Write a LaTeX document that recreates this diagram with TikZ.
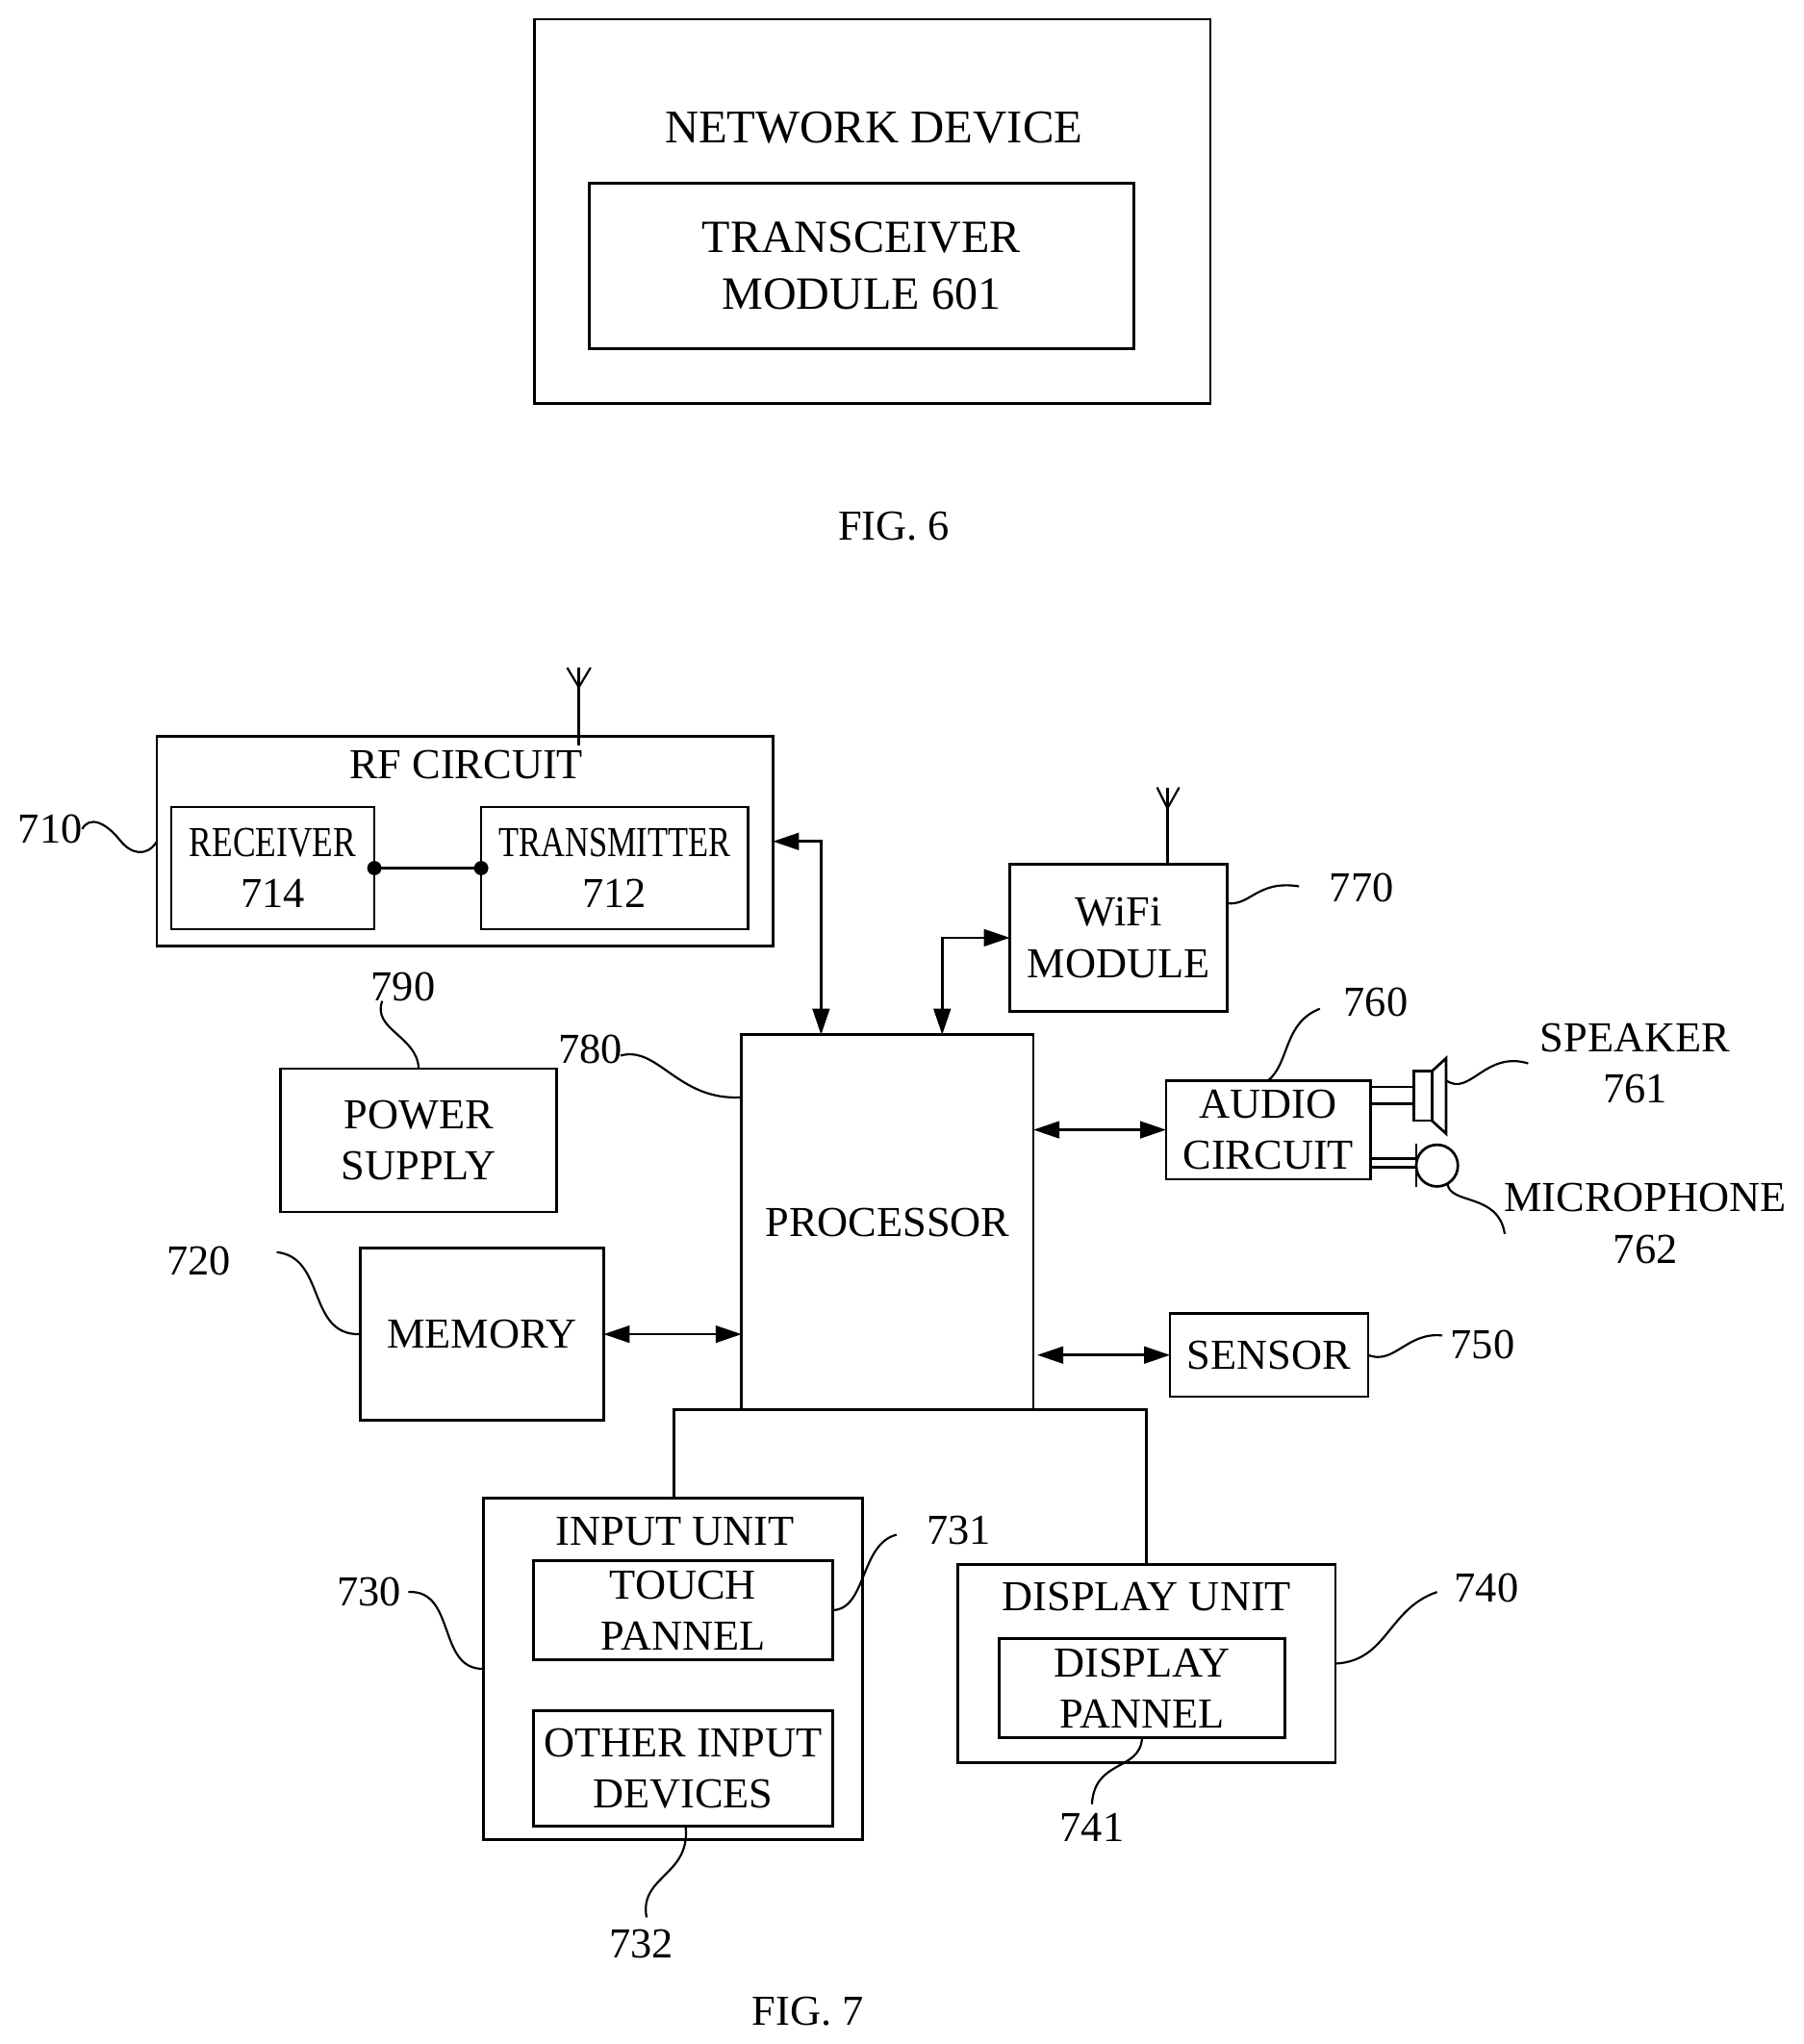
\documentclass[tikz,border=0pt]{standalone}
\usepackage{fontspec}
\setmainfont{Liberation Serif}
\usetikzlibrary{arrows.meta}
\tikzset{
  x=1pt,y=-1pt,
  blk/.style={draw=black,line width=2pt,inner sep=0pt,outer sep=0pt,align=center},
  lab/.style={inner sep=0pt,outer sep=0pt,align=center},
  wire/.style={line width=2pt},
  lead/.style={line width=1.6pt},
  dbl/.style={line width=2pt,{Triangle[length=20pt,width=13pt]}-{Triangle[length=20pt,width=13pt]}}
}
\newcommand{\blk}[6]{\node[blk,minimum width=#4pt,minimum height=#5pt] (#1) at (#2,#3) {#6};}
\newcommand{\lbl}[4]{\node[lab] (#1) at (#2,#3) {#4};}
\newcommand{\cond}[2]{\scalebox{#1}[1]{#2}}
\newcommand{\bigf}{\fontsize{35.5}{39.5}\selectfont}
\begin{document}
\begin{tikzpicture}
\useasboundingbox (-0.5,-0.8) rectangle (1384.5,1569.2);
\fontsize{32.8}{39.5}\selectfont
% FIG 6
\blk{net}{669.5}{161.5}{519}{295}{}
\blk{trans}{661}{203.5}{418}{127}{\bigf TRANSCEIVER\\[4.5pt]\bigf MODULE 601}
\lbl{netl}{670.5}{97}{\fontsize{36}{44}\selectfont NETWORK DEVICE}
\lbl{fig6}{686}{403.5}{FIG. 6}
% FIG 7 blocks
\blk{rf}{356.5}{645.5}{473}{161}{}
\lbl{rfl}{357.5}{586.5}{RF CIRCUIT}
\blk{rx}{209}{666}{156}{94}{\cond{.8}{RECEIVER}\\714}
\blk{tx}{471.5}{666}{205}{94}{\cond{.775}{TRANSMITTER}\\712}
\blk{wifi}{858.5}{719.5}{167}{113}{WiFi\\MODULE}
\blk{power}{321}{875}{212}{110}{POWER\\SUPPLY}
\blk{mem}{369.5}{1024}{187}{132}{MEMORY}
\blk{proc}{681}{938}{224}{288}{PROCESSOR}
\blk{audio}{973.5}{867}{157}{76}{AUDIO\\CIRCUIT}
\blk{sensor}{974}{1040}{152}{64}{SENSOR}
\blk{input}{516.5}{1281}{291}{262}{}
\lbl{inputl}{518}{1175.5}{INPUT UNIT}
\blk{touch}{524}{1236}{230}{76}{TOUCH\\PANNEL}
\blk{other}{524}{1357.5}{230}{89}{OTHER INPUT\\DEVICES}
\blk{disp}{880}{1277}{290}{152}{}
\lbl{displ}{880}{1226}{DISPLAY UNIT}
\blk{dpan}{876.5}{1296}{219}{76}{DISPLAY\\PANNEL}
\lbl{fig7}{620}{1544}{FIG. 7}
% numbers
\lbl{n710}{38}{636}{710}
\lbl{n790}{309}{757}{790}
\lbl{n780}{453}{805}{780}
\lbl{n770}{1045}{681}{770}
\lbl{n760}{1056}{769}{760}
\lbl{nspk}{1255}{816}{SPEAKER\\761}
\lbl{nmic}{1263}{939}{MICROPHONE\\762}
\lbl{n750}{1138}{1032}{750}
\lbl{n720}{152}{968}{720}
\lbl{n730}{283}{1222}{730}
\lbl{n731}{736}{1175}{731}
\lbl{n740}{1141}{1219}{740}
\lbl{n741}{838}{1403}{741}
\lbl{n732}{492}{1492}{732}
% connectors
\draw[wire] (rx.east) -- (tx.west);
\fill (rx.east) circle (5.5pt) (tx.west) circle (5.5pt);
\coordinate (pa) at (630,794);
\coordinate (pb) at (723,794);
\coordinate (pc) at (796,1040);
\coordinate (pd) at (517,1082);
\coordinate (pe) at (880,1082);
\draw[dbl] (rf.east) -| (pa);
\draw[dbl] (pb) |- (wifi.west);
\draw[dbl] (proc.east |- audio.west) -- (audio.west);
\draw[dbl] (pc) -- (sensor.west);
\draw[dbl] (mem.east) -- (proc.west |- mem.east);
\draw[wire] (input.north) ++(0.5,0) -- (pd) -- (pe) -- (disp.north);
% antennas
\coordinate (a1) at (444,572);
\coordinate (a1t) at (444,512);
\coordinate (a1v) at (444,527);
\draw[wire] (a1) -- (a1t);
\draw[lead] (435,512) -- (a1v) -- (453,512);
\coordinate (a2) at (896,663);
\coordinate (a2t) at (896,604);
\coordinate (a2v) at (896,620);
\draw[wire] (a2) -- (a2t);
\draw[lead] (888,604) -- (a2v) -- (905,604);
% speaker
\coordinate (s1) at (1085,822);
\coordinate (s2) at (1099,860);
\draw[wire] (s1) rectangle (s2);
\draw[wire,line join=miter] (1099,822) -- (1110,812) -- (1110,870) -- (1099,860);
\draw[wire] (audio.east |- 0,834) -- (1085,834);
\draw[wire] (audio.east |- 0,847) -- (1085,847);
% microphone
\node[draw=black,line width=2pt,circle,minimum size=32pt,inner sep=0pt,outer sep=0pt] (mic) at (1103,894.5) {};
\draw[wire] (1087,878) -- (1087,911);
\draw[wire] (audio.east |- 0,889) -- (1087,889);
\draw[wire] (audio.east |- 0,896) -- (1087,896);
% lead lines
\draw[lead] (n710.east) .. controls (68,626) and (80,630) .. (92,645) .. controls (100,655) and (112,658) .. (rf.west);
\draw[lead] (293,768) .. controls (285,790) and (320,795) .. (power.north);
\draw[lead] (476,810) .. controls (505,802) and (520,845) .. (569,842);
\draw[lead] (942,693) .. controls (960,695) and (965,675) .. (997,680);
\draw[lead] (1013,774) .. controls (985,785) and (990,815) .. (audio.north);
\draw[lead] (1110,829) .. controls (1128,842) and (1140,806) .. (1173,816);
\draw[lead] (mic.-60) .. controls (1113,925) and (1150,915) .. (1155,947);
\draw[lead] (sensor.east) .. controls (1070,1048) and (1080,1022) .. (1107,1025);
\draw[lead] (212,961) .. controls (250,965) and (235,1025) .. (mem.west);
\draw[lead] (313,1222) .. controls (350,1220) and (335,1282) .. (input.west);
\draw[lead] (688,1178) .. controls (660,1185) and (665,1235) .. (touch.east);
\draw[lead] (1103,1222) .. controls (1065,1235) and (1065,1275) .. (disp.east);
\draw[lead] (dpan.south) .. controls (875,1360) and (840,1350) .. (838,1385);
\draw[lead] (other.south) ++(2,0) .. controls (530,1440) and (490,1440) .. (496,1472);
\end{tikzpicture}
\end{document}
